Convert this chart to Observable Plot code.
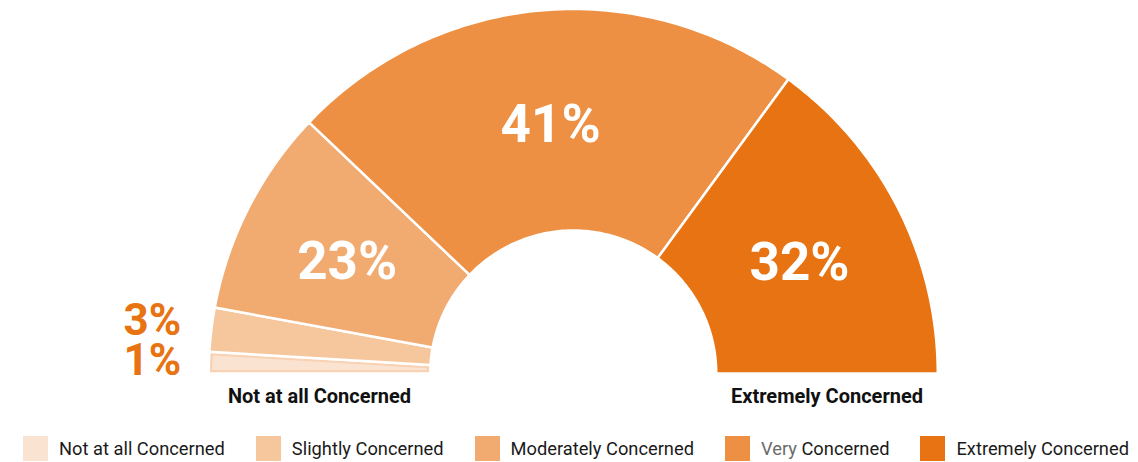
<!DOCTYPE html>
<html><head><meta charset="utf-8">
<script src="https://cdn.jsdelivr.net/npm/d3@7"></script>
<script src="https://cdn.jsdelivr.net/npm/@observablehq/plot@0.6"></script>
<style>
body{margin:0;background:#fff;font-family:Roboto,"Liberation Sans",sans-serif;}
#chart svg{display:block}
#legend{display:flex;justify-content:center;align-items:center;gap:31px;height:28px;padding-top:14px;font-size:18.3px;color:#1a1a1a;white-space:nowrap;padding-left:14px}
.item{display:flex;align-items:center}
.sw{width:25px;height:25px;margin-right:11px;flex:none}
.muted{color:#6b6b6b}
</style></head><body><div id="chart"></div><div id="legend"></div>
<script>
const categories = ["Not at all Concerned","Slightly Concerned","Moderately Concerned","Very Concerned","Extremely Concerned"];
const values = [1, 3, 23, 41, 32];
// share of the half ring each segment occupies as drawn in the picture (percent)
const drawnShare = [1.9, 3.9, 18.4, 45.9, 29.9];
const colors = ["#fbe3d1", "#f6c69d", "#f1aa70", "#ee9043", "#e87312"];
const endLabels = ["Not at all Concerned", "Extremely Concerned"];

const W = 1138, H = 420;
const px = 364.5;           // pixels per unit radius
const cx = 572.75, cy = 373; // centre in pixels
const ringInner = 143 / px;
const ringMid = (1 + ringInner) / 2;
const borderColor = "#f8d2b3";

let cum = 0;
const segs = categories.map((c, i) => {
  const a0 = Math.PI * (1 - cum / 100);
  cum += drawnShare[i];
  const a1 = Math.PI * (1 - cum / 100);
  return {cat: c, value: values[i], a0, a1, mid: (a0 + a1) / 2};
});

function ringPoints(s, inset) {
  const pts = [], n = 80;
  const Ro = 1 - inset / px, Ri = ringInner + inset / px;
  const dO = inset / px / Ro, dI = inset / px / Ri;
  const oa = s.a0 - dO, ob = s.a1 + dO, ia = s.a0 - dI, ib = s.a1 + dI;
  for (let k = 0; k <= n; k++) { const a = oa + (ob - oa) * k / n; pts.push({cat: s.cat, x: Ro * Math.cos(a), y: Ro * Math.sin(a)}); }
  for (let k = 0; k <= n; k++) { const a = ib + (ia - ib) * k / n; pts.push({cat: s.cat, x: Ri * Math.cos(a), y: Ri * Math.sin(a)}); }
  pts.push(pts[0]);
  return pts;
}

const ringPts = segs.flatMap(s => ringPoints(s, 0));
const insetPts = ringPoints(segs[0], 3.5);
const fillRange = colors.map((c, i) => i === 0 ? borderColor : c);

const chart = Plot.plot({
  width: W, height: H, margin: 0,
  style: {fontFamily: 'Roboto,"Liberation Sans",sans-serif', background: "#fff"},
  x: {domain: [-cx / px, (W - cx) / px], axis: null},
  y: {domain: [-(H - cy) / px, cy / px], axis: null},
  color: {domain: categories, range: fillRange},
  marks: [
    Plot.line(ringPts, {x: "x", y: "y", z: "cat", fill: "cat", stroke: "white", strokeWidth: 2.5, curve: "linear"}),
    Plot.line(insetPts, {x: "x", y: "y", fill: colors[0], stroke: "none", curve: "linear"}),
    Plot.text(segs.filter(d => d.value >= 10), {
      x: d => ringMid * Math.cos(d.mid), y: d => ringMid * Math.sin(d.mid), dy: 4,
      text: d => d.value + "%", fill: "white", fontSize: 53, fontWeight: "bold"
    }),
    Plot.text(segs.filter(d => d.value < 10), {
      x: -1.234, y: d => 1.2 * Math.sin(d.mid),
      text: d => d.value + "%", fill: "#e87312", fontSize: 44, fontWeight: "bold", textAnchor: "start"
    }),
    Plot.text(endLabels, {
      x: (d, i) => i === 0 ? -ringMid : ringMid, y: 0, dy: 23,
      text: d => d, fill: "#111", fontSize: 20, fontWeight: "bold"
    })
  ]
});
document.getElementById("chart").appendChild(chart);

const legend = document.getElementById("legend");
categories.forEach((c, i) => {
  const item = document.createElement("div");
  item.className = "item";
  const sw = document.createElement("div");
  sw.className = "sw"; sw.style.background = colors[i];
  const lab = document.createElement("span");
  if (c.startsWith("Very ")) {
    lab.innerHTML = '<span class="muted">Very</span> ' + c.slice(5);
  } else lab.textContent = c;
  item.appendChild(sw); item.appendChild(lab);
  legend.appendChild(item);
});
</script></body></html>
